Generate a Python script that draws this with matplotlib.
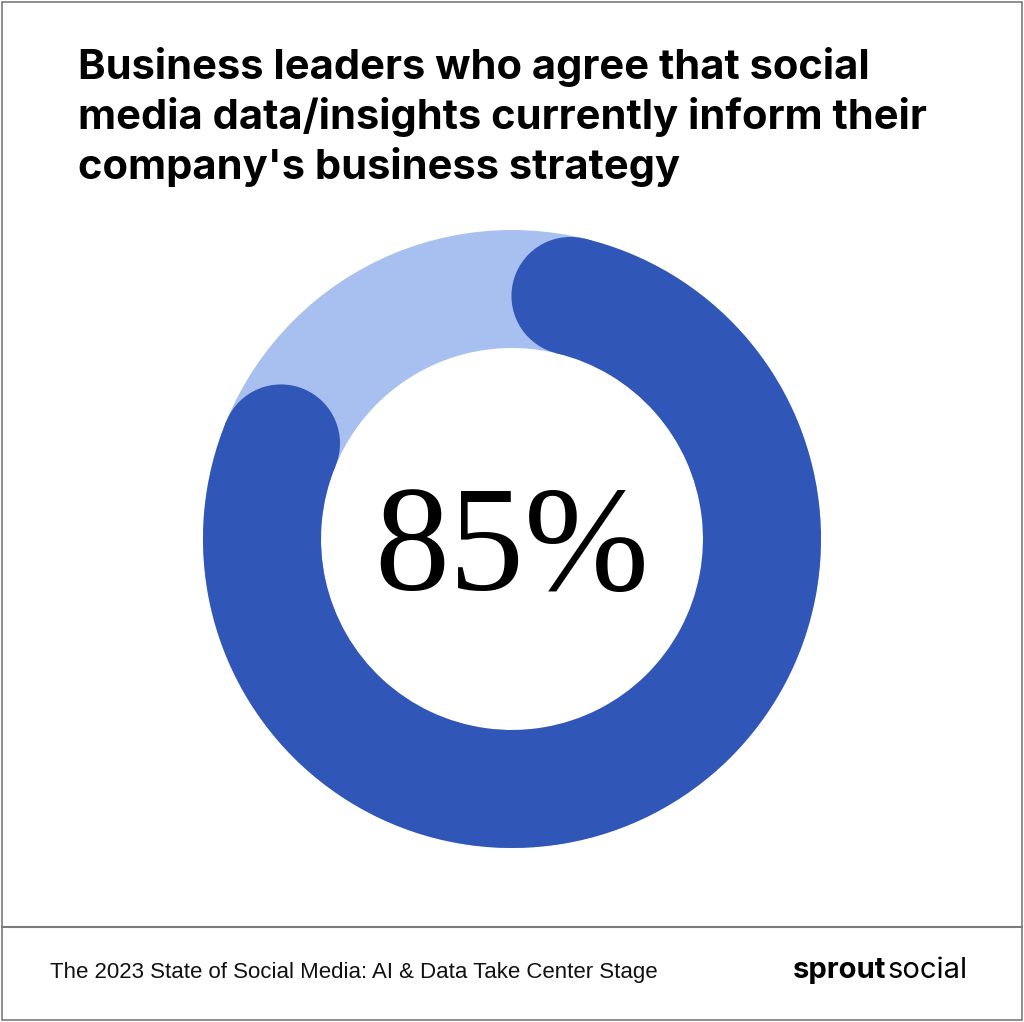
import numpy as np
import matplotlib.pyplot as plt
from matplotlib.patches import Wedge, Circle, Rectangle

# data
share_pct = 85
title_lines = ["Business leaders who agree that social",
               "media data/insights currently inform their",
               "company's business strategy"]
footer_text = "The 2023 State of Social Media: AI & Data Take Center Stage"

dark_blue = "#3057b8"
light_blue = "#a7c0f0"

W, H = 1024, 1022
fig = plt.figure(figsize=(W / 100, H / 100), dpi=100)
ax = fig.add_axes([0, 0, 1, 1])
ax.set_xlim(0, W)
ax.set_ylim(0, H)
ax.axis("off")


def py(y):
    # pixel row (from top) -> data y
    return H - y


# border + footer rule
ax.add_patch(Rectangle((1.5, 2.5), W - 4, H - 4, fill=False, ec="#7a7a7a", lw=1.2))
ax.plot([1.5, W - 2.5], [py(927), py(927)], color="#7a7a7a", lw=1.5)

# donut
cx, cy = 512, py(539)
r_out, ring_w = 309, 118
r_mid = r_out - ring_w / 2
ax.add_patch(Wedge((cx, cy), r_out, 0, 360, width=ring_w, color=light_blue, lw=0))

span = 360 * share_pct / 100
cap = np.degrees((ring_w / 2) / r_mid)
a1, a2 = cap, span - cap  # clockwise from 12 o'clock
ax.add_patch(Wedge((cx, cy), r_out, 90 - a2, 90 - a1, width=ring_w, color=dark_blue, lw=0))
for a in (a1, a2):
    t = np.radians(90 - a)
    ax.add_patch(Circle((cx + r_mid * np.cos(t), cy + r_mid * np.sin(t)), ring_w / 2,
                        color=dark_blue, lw=0))

ax.text(cx, py(590), f"{share_pct}%", ha="center", va="baseline", fontsize=108,
        family="Liberation Serif", color="black")

# title
for i, line in enumerate(title_lines):
    ax.text(78, py(79 + 50 * i), line, ha="left", va="baseline", fontsize=30,
            fontweight="bold", family="Inter", color="black")

# footer
ax.text(50, py(978), footer_text, ha="left", va="baseline", fontsize=16,
        family="Liberation Sans", color="#111111")
t1 = ax.text(793, py(978), "sprout", ha="left", va="baseline", fontsize=21,
             fontweight="bold", family="Inter", color="black")
fig.canvas.draw()
bb = t1.get_window_extent()
ax.text(bb.x1 + 1, py(978), "social", ha="left", va="baseline", fontsize=21,
        family="Inter", color="black")

fig.savefig("out.png", dpi=100, facecolor="white")
